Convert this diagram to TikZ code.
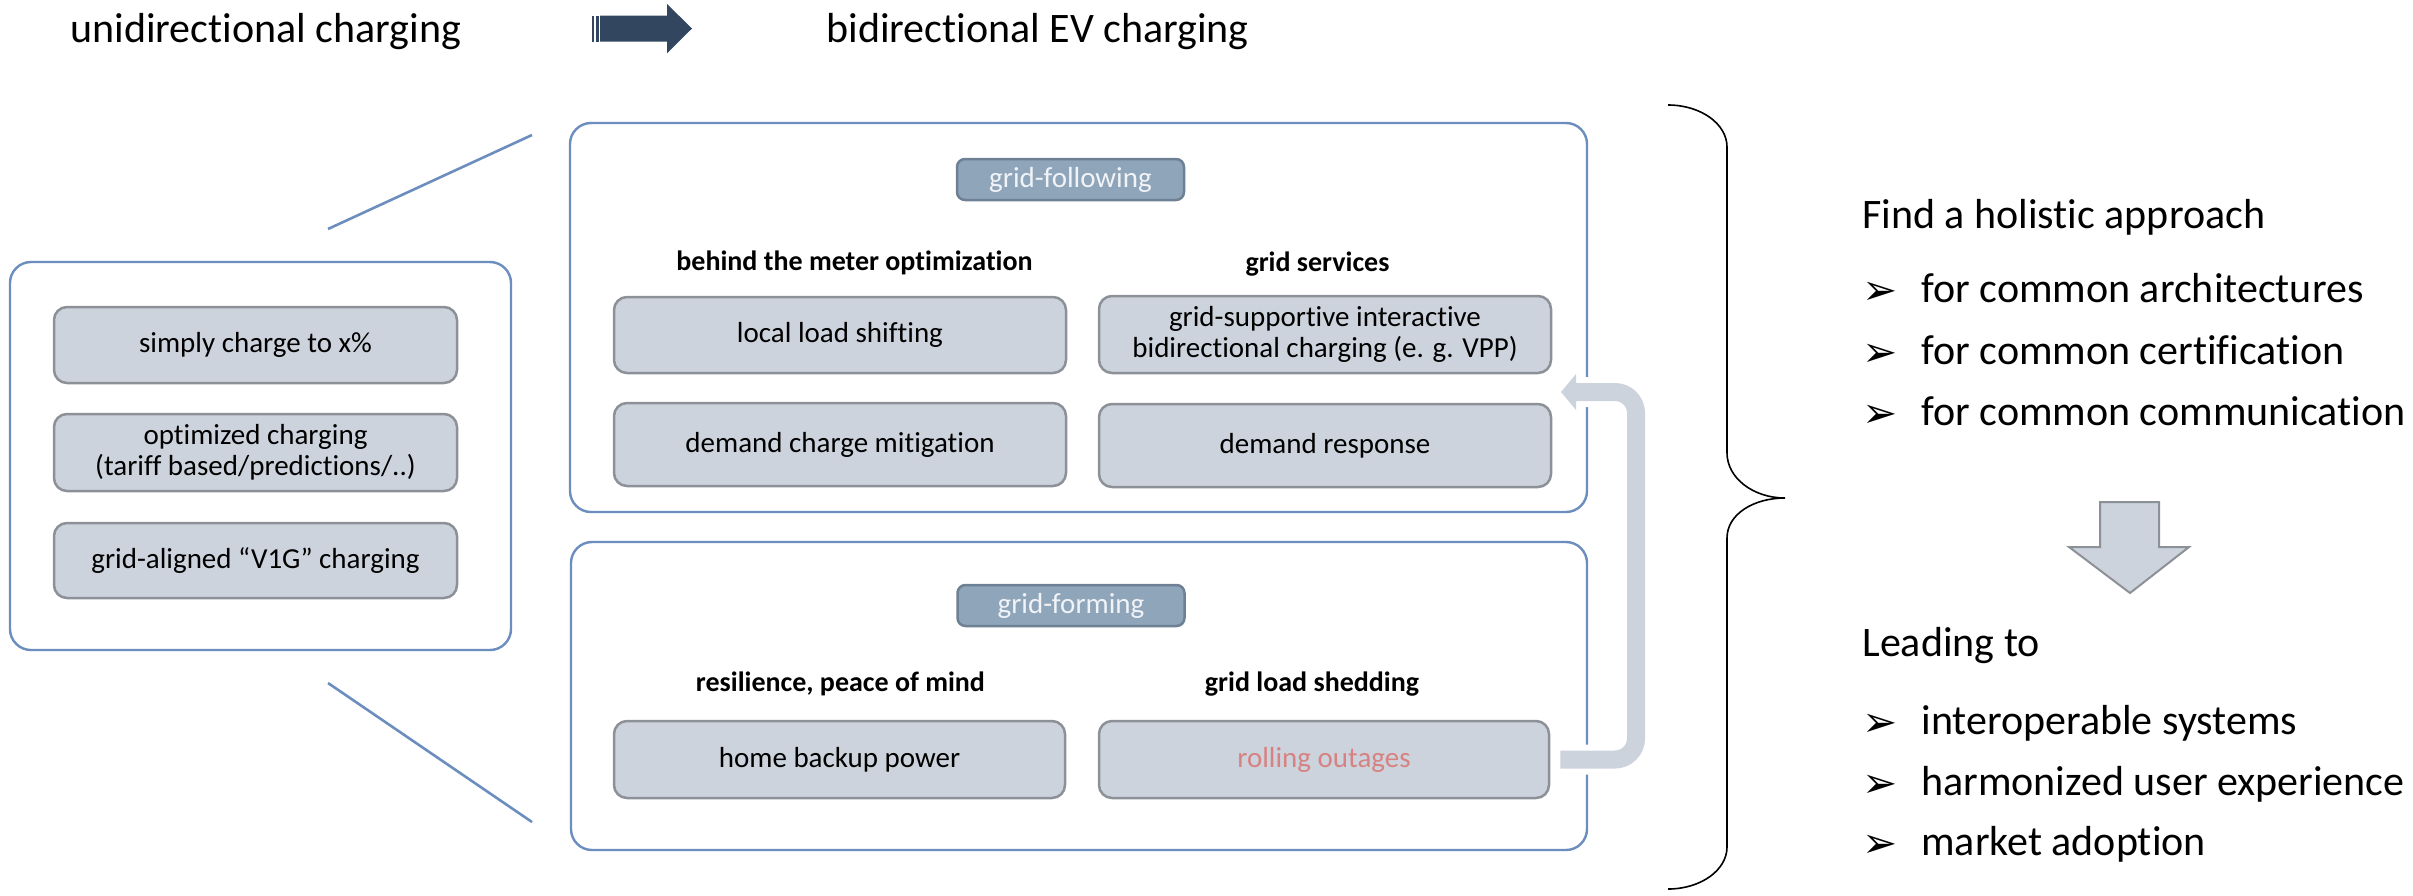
\documentclass[tikz,border=0pt]{standalone}
\usepackage{fontspec}
\setmainfont{Carlito}[Ligatures=NoCommon]
\newfontfamily\bulletfont{DejaVu Sans}
\usetikzlibrary{calc}
\definecolor{lineblue}{RGB}{108,142,190}
\definecolor{boxfill}{RGB}{205,211,220}
\definecolor{boxgray}{RGB}{140,145,152}
\definecolor{tagfill}{RGB}{143,165,186}
\definecolor{tagborder}{RGB}{110,128,148}
\definecolor{tagtext}{RGB}{240,243,247}
\definecolor{arrowgray}{RGB}{205,211,220}
\definecolor{navy}{RGB}{50,70,96}
\definecolor{rolltext}{RGB}{214,130,130}
\newcommand{\bul}{\makebox[29.5pt][l]{\raisebox{-1pt}{\bulletfont\fontsize{21}{21}\selectfont ➢}}}
\tikzset{
  frame/.style={draw=lineblue, line width=1.2pt, rounded corners=10.5pt, inner sep=0pt},
  itembox/.style={draw=boxgray, fill=boxfill, line width=1.25pt, rounded corners=6.5pt,
    font=\fontsize{14.5}{15.5}\selectfont, align=center, inner sep=0pt},
  tagbox/.style={draw=tagborder, fill=tagfill, line width=1.25pt, rounded corners=4pt,
    text=tagtext, font=\fontsize{14.5}{15.5}\selectfont, inner sep=0pt,
    minimum width=113.5pt, minimum height=20.5pt},
  header/.style={font=\bfseries\fontsize{14}{15}\selectfont, inner sep=0pt},
  bigtext/.style={font=\fontsize{21}{25}\selectfont, anchor=base west, inner sep=0pt},
  diag/.style={draw=lineblue, line width=1.3pt},
}
\begin{document}
\begin{tikzpicture}[x=0.5pt,y=-0.5pt]
\useasboundingbox (0,0) rectangle (2413,895);

% titles and arrow
\node[bigtext] (tu) at (70,42) {unidirectional charging};
\node[bigtext] (tb) at (826,42) {bidirectional EV charging};
\fill[navy] (600,15.7) -- (667,15.7) -- (667,4) -- (692,28.5) -- (667,53.3) -- (667,41.7) -- (600,41.7) -- cycle;
\fill[navy] (592.3,15.7) rectangle (593.9,41.7);
\fill[navy] (595.7,15.7) rectangle (598.7,41.7);

% frames
\node[frame, minimum width=250.5pt, minimum height=194pt] (uni) at (260.5,456) {};
\node[frame, minimum width=508.5pt, minimum height=194.5pt] (gfol) at (1078.5,317.5) {};
\node[frame, minimum width=508pt, minimum height=154pt] (gform) at (1079,696) {};

% diagonals
\coordinate (d1a) at (532,135);
\coordinate (d1b) at (328,229);
\coordinate (d2a) at (328,683);
\coordinate (d2b) at (532,822);
\draw[diag] (d1a) -- (d1b);
\draw[diag] (d2a) -- (d2b);

% left items
\node[itembox, minimum width=201.5pt, minimum height=38pt] (s1) at (255.5,345) {simply charge to x\%};
\node[itembox, minimum width=201.5pt, minimum height=38.5pt] (s2) at (255.5,452.5) {optimized charging\\(tariff based/predictions/..)};
\node[itembox, minimum width=201.5pt, minimum height=37.5pt] (s3) at (255.5,560.5) {grid-aligned “V1G” charging};

% grid-following
\node[tagbox] (t1) at (1070.5,179.5) {grid-following};
\node[header] (h1) at (854.5,263) {behind the meter optimization};
\node[header] (h2) at (1317.5,264) {grid services};
\node[itembox, minimum width=226pt, minimum height=38pt] (m1) at (840,335) {local load shifting};
\node[itembox, minimum width=226pt, minimum height=38.5pt] (m2) at (1325,334.5) {grid-supportive interactive\\bidirectional charging (e. g. VPP)};
\node[itembox, minimum width=226pt, minimum height=41.5pt] (m3) at (840,444.5) {demand charge mitigation};
\node[itembox, minimum width=226pt, minimum height=41.5pt] (m4) at (1325,445.5) {demand response};

% grid-forming
\node[tagbox] (t2) at (1071,605.5) {grid-forming};
\node[header] (h3) at (840.5,684) {resilience, peace of mind};
\node[header] (h4) at (1312,684) {grid load shedding};
\node[itembox, minimum width=225.5pt, minimum height=38.5pt] (f1) at (839.5,759.5) {home backup power};
\node[itembox, minimum width=225pt, minimum height=38.5pt, text=rolltext] (f2) at (1324,759.5) {rolling outages};

% feedback arrow
\coordinate (arS) at ($(f2.east)+(5pt,0pt)$);
\coordinate (arC) at (1636,392);
\coordinate (arB) at (1575,392);
\coordinate (arT) at (1561,392);
\draw[white, line width=15pt, rounded corners=10.5pt] (arS) -- (arS -| arC) -- (arC) -- (arB);
\draw[white, line width=6pt, line join=round] (1576,374) -- (arT) -- (1576,410) -- cycle;
\draw[arrowgray, line width=9pt, rounded corners=10.5pt] (arS) -- (arS -| arC) -- (arC) -- (arB);
\fill[arrowgray] (1576,374) -- (arT) -- (1576,410) -- cycle;

% brace
\draw[black, line width=0.8pt]
  (1668,105) .. controls (1700.6,105) and (1727,123.8) .. (1727,147)
  -- (1727,453) .. controls (1727,477.8) and (1753,498) .. (1785,498)
  .. controls (1753,498) and (1727,514.5) .. (1727,538)
  -- (1727,847) .. controls (1727,870.2) and (1700.6,889) .. (1668,889);

% right texts
\node[bigtext] (r0) at (1862,228) {Find a holistic approach};
\node[bigtext] (r1) at (1862,302) {\bul for common architectures};
\node[bigtext] (r2) at (1862,364) {\bul for common certification};
\node[bigtext] (r3) at (1862,425) {\bul for common communication};
\node[bigtext] (r4) at (1862,656) {Leading to};
\node[bigtext] (r5) at (1862,734) {\bul interoperable systems};
\node[bigtext] (r6) at (1862,795) {\bul harmonized user experience};
\node[bigtext] (r7) at (1862,855) {\bul market adoption};

% down arrow
\filldraw[fill=arrowgray, draw=boxgray, line width=1pt]
  (2100,502) -- (2159,502) -- (2159,547) -- (2189,547) -- (2130,593) -- (2069,547) -- (2100,547) -- cycle;
\end{tikzpicture}
\end{document}
